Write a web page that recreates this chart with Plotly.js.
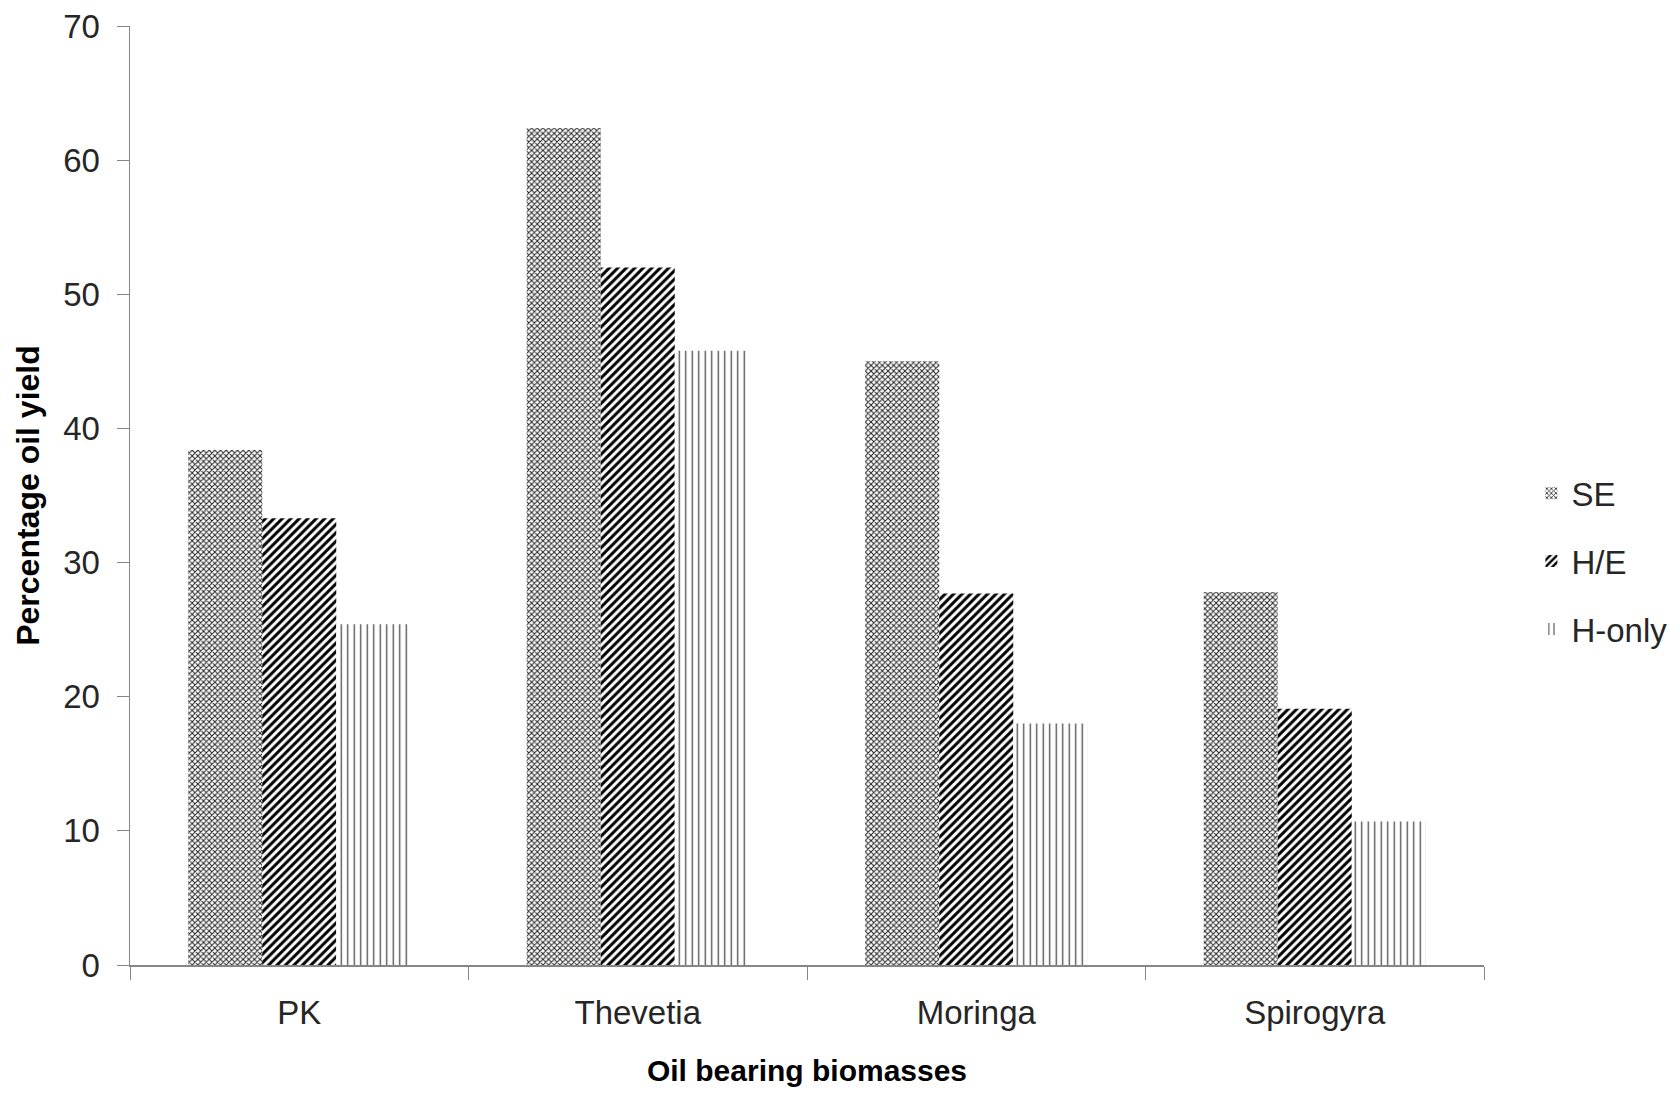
<!DOCTYPE html>
<html>
<head>
<meta charset="utf-8">
<script src="https://cdn.plot.ly/plotly-3.0.1.min.js"></script>
<style>
  html, body { margin: 0; padding: 0; background: #fff; }
  #chart { width: 1680px; height: 1093px; }
</style>
</head>
<body>
<div id="chart"></div>
<script>
// Oil yield (%) per biomass for each extraction method
const biomasses = ["PK", "Thevetia", "Moringa", "Spirogyra"];
const seYield = [38.4, 62.4, 45.0, 27.8];
const heYield = [33.3, 52.0, 27.7, 19.1];
const hOnlyYield = [25.4, 45.8, 18.0, 10.7];
const seriesNames = ["SE", "H/E", "H-only"];
const yTicks = [0, 10, 20, 30, 40, 50, 60, 70];

const FONT = "Liberation Sans, Arial, sans-serif";
const INK = "#262626";
const AXIS = "#868686";

function barTrace(name, values, pattern, group) {
  return {
    type: "bar",
    name: name,
    x: biomasses,
    y: values,
    legendgroup: group,
    marker: {
      color: "#ffffff",
      line: { width: 0 },
      pattern: Object.assign({ fgcolor: "#000000", bgcolor: "#ffffff", fillmode: "replace" }, pattern)
    },
    hoverinfo: "x+y+name"
  };
}

const traces = [
  barTrace(seriesNames[0], seYield, { shape: "x", size: 4, solidity: 0.45, fgopacity: 0.85 }, "g1"),
  barTrace(seriesNames[1], heYield, { shape: "/", size: 6, solidity: 0.5 }, "g2"),
  barTrace(seriesNames[2], hOnlyYield, { shape: "|", size: 6.5, solidity: 0.2, fgopacity: 0.7 }, "g3")
];

const layout = {
  width: 1680,
  height: 1093,
  paper_bgcolor: "#ffffff",
  plot_bgcolor: "#ffffff",
  margin: { l: 130, r: 196, t: 26, b: 128, autoexpand: false },
  font: { family: FONT, size: 33, color: INK },
  barmode: "group",
  bargap: 0.344,
  bargroupgap: 0,
  showlegend: true,
  legend: {
    x: 1.035,
    y: 0.43,
    xanchor: "left",
    yanchor: "middle",
    tracegroupgap: 22,
    font: { family: FONT, size: 33, color: INK },
    itemwidth: 30,
    bgcolor: "rgba(0,0,0,0)"
  },
  xaxis: {
    type: "category",
    showline: true,
    linecolor: AXIS,
    linewidth: 1.5,
    ticks: "outside",
    tickcolor: AXIS,
    ticklen: 13,
    tickson: "boundaries",
    ticklabelstandoff: 18,
    showgrid: false,
    zeroline: false,
    automargin: false,
    tickfont: { family: FONT, size: 33, color: INK },
    title: {
      text: "<b>Oil bearing biomasses</b>",
      font: { family: FONT, size: 30, color: "#000000" },
      standoff: 30
    }
  },
  yaxis: {
    range: [0, 70],
    tickvals: yTicks,
    ticktext: yTicks.map(String),
    showline: true,
    linecolor: AXIS,
    linewidth: 1.5,
    ticks: "outside",
    tickcolor: AXIS,
    ticklen: 12,
    ticklabelstandoff: 10,
    showgrid: false,
    zeroline: false,
    automargin: false,
    tickfont: { family: FONT, size: 33, color: INK },
    title: {
      text: "<b>Percentage oil yield</b>",
      font: { family: FONT, size: 32, color: "#000000" },
      standoff: 14
    }
  }
};

Plotly.newPlot("chart", traces, layout, { displayModeBar: false, staticPlot: true });
</script>
</body>
</html>
